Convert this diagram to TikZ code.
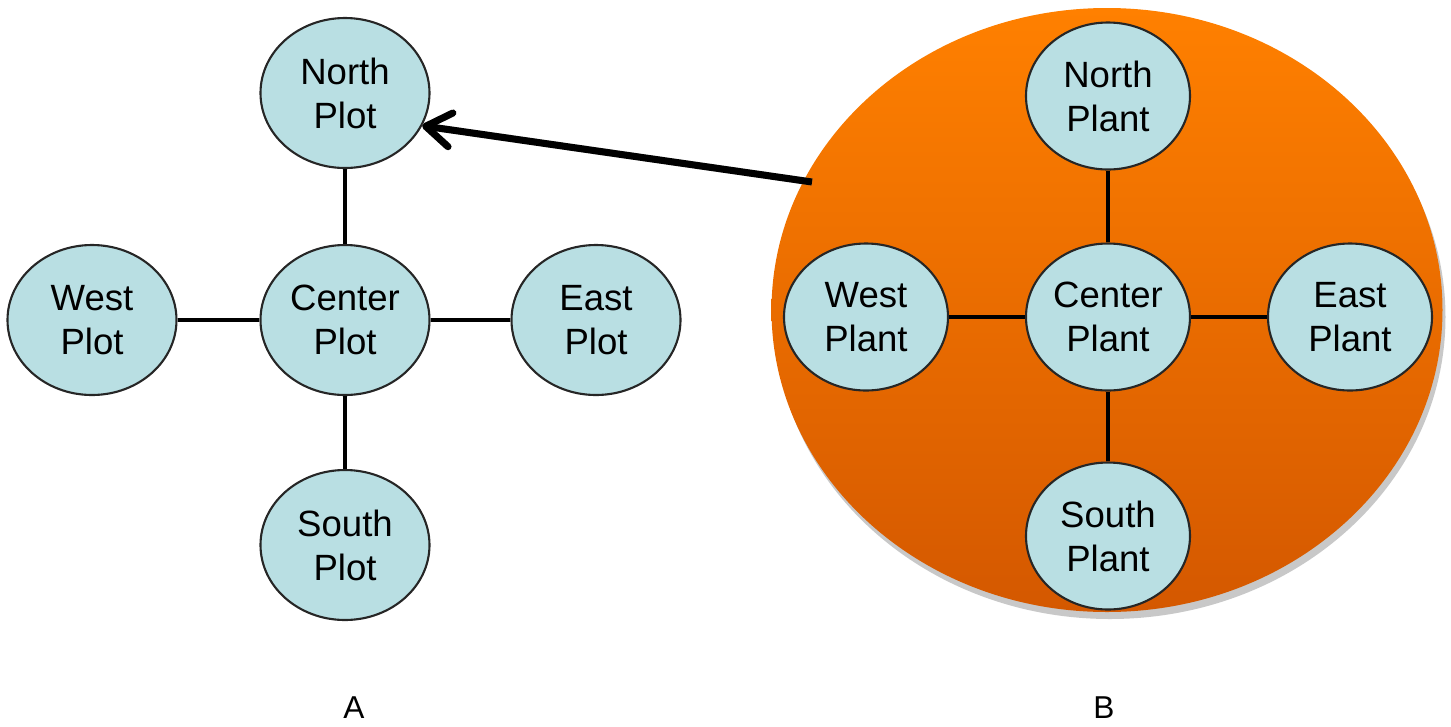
\documentclass[tikz,border=0pt]{standalone}
\usepackage{fontspec}
\setmainfont{Liberation Sans}
\usetikzlibrary{shapes.geometric,arrows.meta}

\definecolor{plotblue}{RGB}{185,223,227}
\definecolor{orangetop}{RGB}{255,128,0}
\definecolor{orangebot}{RGB}{212,88,0}
\definecolor{shadowgray}{RGB}{200,200,200}

\tikzset{
    spot/.style={ellipse, draw=black!85, line width=0.6pt, fill=plotblue,
        inner sep=0pt, align=center, font=\fontsize{10.4}{12.5}\selectfont},
    plotspot/.style={spot, minimum width=1.69cm, minimum height=1.5cm},
    plantspot/.style={spot, minimum width=1.64cm, minimum height=1.47cm},
    link/.style={line width=1.3pt},
    tag/.style={font=\fontsize{9}{11}\selectfont}
}

\begin{document}
\begin{tikzpicture}
        \useasboundingbox (0, 0) rectangle (14.51, 7.26);

        % field B
        \fill[shadowgray] (11.10, 4.09) ellipse [x radius=3.355, y radius=3.02];
        \shade[top color=orangetop, middle color=orangetop, bottom color=orangebot]
            (11.07, 4.16) ellipse [x radius=3.355, y radius=3.02];

        % plots of A
        \node[plotspot] (NorthPlot)  at (3.45, 6.33) {North\\Plot};
        \node[plotspot] (CenterPlot) at (3.45, 4.06) {Center\\Plot};
        \node[plotspot] (WestPlot)   at (0.92, 4.06) {West\\Plot};
        \node[plotspot] (EastPlot)   at (5.96, 4.06) {East\\Plot};
        \node[plotspot] (SouthPlot)  at (3.45, 1.81) {South\\Plot};

        % plants of B
        \node[plantspot] (NorthPlant)  at (11.08, 6.30) {North\\Plant};
        \node[plantspot] (CenterPlant) at (11.08, 4.09) {Center\\Plant};
        \node[plantspot] (WestPlant)   at (8.66, 4.09)  {West\\Plant};
        \node[plantspot] (EastPlant)   at (13.50, 4.09) {East\\Plant};
        \node[plantspot] (SouthPlant)  at (11.08, 1.90) {South\\Plant};

        \draw[link] (NorthPlot) -- (CenterPlot);
        \draw[link] (WestPlot) -- (CenterPlot);
        \draw[link] (EastPlot) -- (CenterPlot);
        \draw[link] (SouthPlot) -- (CenterPlot);

        \draw[link] (NorthPlant) -- (CenterPlant);
        \draw[link] (WestPlant) -- (CenterPlant);
        \draw[link] (EastPlant) -- (CenterPlant);
        \draw[link] (SouthPlant) -- (CenterPlant);

        % arrow from B to A
        \coordinate (tail) at (8.12, 5.44);
        \draw[line width=2pt, black!30, opacity=0.6, shift={(0.02, -0.04)},
            -{Straight Barb[length=2.5mm, width=3.4mm, round]}] (tail) -- (NorthPlot.-23);
        \draw[line width=2pt, -{Straight Barb[length=2.5mm, width=3.4mm, round]}]
            (tail) -- (NorthPlot.-23);

        \node[tag] (labelA) at (3.54, 0.18) {A};
        \node[tag] (labelB) at (11.04, 0.18) {B};
    \end{tikzpicture}
\end{document}
